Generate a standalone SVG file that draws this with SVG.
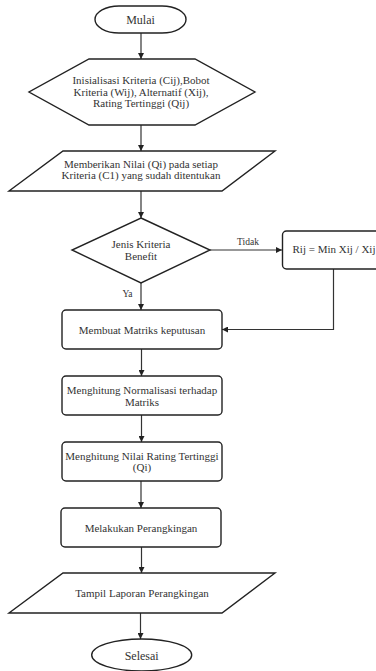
<svg xmlns="http://www.w3.org/2000/svg" width="376" height="671" viewBox="0 0 376 671">
<style>
.s{fill:#fff;stroke:#222;stroke-width:1.4}
text{font-family:'Liberation Serif','DejaVu Serif',serif;fill:#333;text-anchor:middle}
.t{font-size:11px}
.tt{font-size:12px}
.l{font-size:9.5px}
.c{fill:none;stroke:#333;stroke-width:1.2}
</style>
<defs>
<marker id="a" viewBox="0 0 10 10" refX="10" refY="5" markerWidth="6" markerHeight="6" orient="auto" markerUnits="userSpaceOnUse">
<path d="M0,0 L10,5 L0,10 z" fill="#222"/>
</marker>
</defs>
<rect width="376" height="671" fill="#fff"/>
<g id="connectors">
<path class="c" d="M141,33 V59" marker-end="url(#a)"/>
<path class="c" d="M141,125 V151" marker-end="url(#a)"/>
<path class="c" d="M141,191 V218" marker-end="url(#a)"/>
<path class="c" d="M210,250 H282" marker-end="url(#a)"/>
<path class="c" d="M141,283 V310" marker-end="url(#a)"/>
<path class="c" d="M333.5,269 V329.5 H222" marker-end="url(#a)"/>
<path class="c" d="M141.5,349 V376" marker-end="url(#a)"/>
<path class="c" d="M141.5,415 V442" marker-end="url(#a)"/>
<path class="c" d="M141,481 V508" marker-end="url(#a)"/>
<path class="c" d="M141.5,547 V573" marker-end="url(#a)"/>
<path class="c" d="M140.5,613 V639" marker-end="url(#a)"/>
<text class="l" x="248" y="245" font-family="Liberation Serif, serif">Tidak</text>
<text class="l" x="127.5" y="297" font-family="Liberation Serif, serif">Ya</text>
</g>
<g id="mulai">
<rect class="s" x="95" y="6" width="91" height="27" rx="24" ry="13.5"/>
<text class="tt" x="140.5" y="23.5" font-family="Liberation Serif, serif">Mulai</text>
</g>
<g id="inisialisasi">
<polygon class="s" points="89,59 195,59 255,92 195,125 89,125 29,92"/>
<text class="t" x="141" y="84" font-family="Liberation Serif, serif">Inisialisasi Kriteria (Cij),Bobot</text>
<text class="t" x="141" y="95.5" font-family="Liberation Serif, serif">Kriteria (Wij), Alternatif (Xij),</text>
<text class="t" x="141" y="107" font-family="Liberation Serif, serif">Rating Tertinggi (Qij)</text>
</g>
<g id="memberikan">
<polygon class="s" points="63,151 275,151 222,191 9,191"/>
<text class="t" x="141" y="167.5" font-family="Liberation Serif, serif">Memberikan Nilai (Qi) pada setiap</text>
<text class="t" x="141" y="179" font-family="Liberation Serif, serif">Kriteria (C1) yang sudah ditentukan</text>
</g>
<g id="jenis">
<polygon class="s" points="141,218 210,250 141,283 72,250"/>
<text class="t" x="141" y="248" font-family="Liberation Serif, serif">Jenis Kriteria</text>
<text class="t" x="141" y="259.5" font-family="Liberation Serif, serif">Benefit</text>
</g>
<g id="rij">
<rect class="s" x="282.5" y="231" width="110" height="38" rx="4"/>
<text class="t" x="334" y="253" font-family="Liberation Serif, serif">Rij = Min Xij / Xij</text>
</g>
<g id="matriks">
<rect class="s" x="62" y="310" width="160" height="39" rx="4"/>
<text class="t" x="142" y="334" font-family="Liberation Serif, serif">Membuat Matriks keputusan</text>
</g>
<g id="normalisasi">
<rect class="s" x="62" y="376" width="160" height="39" rx="4"/>
<text class="t" x="142" y="394" font-family="Liberation Serif, serif">Menghitung Normalisasi terhadap</text>
<text class="t" x="142" y="405.5" font-family="Liberation Serif, serif">Matriks</text>
</g>
<g id="rating">
<rect class="s" x="62" y="442" width="160" height="39" rx="4"/>
<text class="t" x="142" y="459.5" font-family="Liberation Serif, serif">Menghitung Nilai Rating Tertinggi</text>
<text class="t" x="142" y="471" font-family="Liberation Serif, serif">(Qi)</text>
</g>
<g id="perangkingan">
<rect class="s" x="61" y="508" width="160" height="39" rx="4"/>
<text class="t" x="141" y="532" font-family="Liberation Serif, serif">Melakukan Perangkingan</text>
</g>
<g id="laporan">
<polygon class="s" points="63,573 275,573 222,613 9,613"/>
<text class="t" x="142" y="597" font-family="Liberation Serif, serif">Tampil Laporan Perangkingan</text>
</g>
<g id="selesai">
<ellipse class="s" cx="141.7" cy="655" rx="50" ry="16"/>
<text class="tt" x="141.7" y="660" font-family="Liberation Serif, serif">Selesai</text>
</g>
</svg>
